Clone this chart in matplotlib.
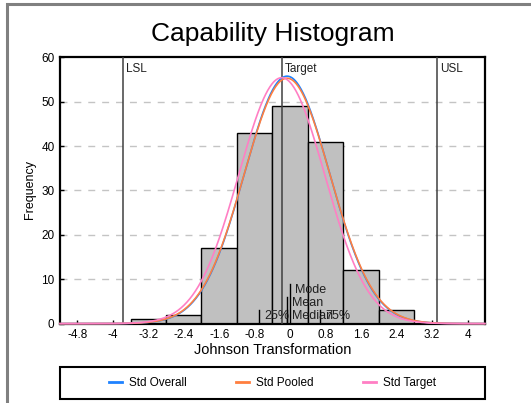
import numpy as np
import matplotlib.pyplot as plt
from matplotlib.patches import Rectangle

plt.rcParams["font.family"] = ["Liberation Sans", "DejaVu Sans"]

# Histogram of the Johnson-transformed values
bin_centers = [-3.2, -2.4, -1.6, -0.8, 0.0, 0.8, 1.6, 2.4]
counts = [1, 2, 17, 43, 49, 41, 12, 3]
bin_width = 0.8

# Spec limits and target on the transformed scale
spec_names = ["LSL", "Target", "USL"]
spec_values = [-3.78, -0.19, 3.31]

# Summary markers along the bottom
stat_names = ["25%", "Median", "Mean", "Mode", "75%"]
stat_values = [-0.70, -0.07, -0.07, 0.0, 0.68]
stat_heights = [3, 3, 6, 9, 3]

# Fitted normal curves: mean and std dev
fit_names = ["Std Overall", "Std Pooled", "Std Target"]
fit_means = [-0.07, -0.07, -0.19]
fit_sigmas = [0.962, 0.970, 0.968]
fit_colors = ["#1e82ff", "#ff7f3f", "#ff7fc4"]

xticks = [-4.8, -4, -3.2, -2.4, -1.6, -0.8, 0, 0.8, 1.6, 2.4, 3.2, 4]
xtick_labels = ["-4.8", "-4", "-3.2", "-2.4", "-1.6", "-0.8", "0",
                "0.8", "1.6", "2.4", "3.2", "4"]
yticks = [0, 10, 20, 30, 40, 50, 60]

fig = plt.figure(figsize=(5.31, 4.03), dpi=100)
ax = fig.add_axes([0.113, 0.197, 0.800, 0.661])

# grey page frame
fig.patches.append(Rectangle((0.0132, -0.2), 1.2, 1.19, transform=fig.transFigure,
                             fill=False, edgecolor="#808080", lw=2.2))

ax.set_xlim(-5.19, 4.39)
ax.set_ylim(0, 60)

for y in yticks[1:-1]:
    ax.axhline(y, color="#c4c4c4", lw=1, ls=(0, (5, 5)), zorder=0)

ax.bar(bin_centers, counts, width=bin_width, color="#c0c0c0",
       edgecolor="black", linewidth=1, zorder=2)

for name, xv in zip(spec_names, spec_values):
    ax.axvline(xv, color="#404040", lw=1.1, zorder=3)
    ax.annotate(name, (xv, 60), xytext=(3, -6), textcoords="offset pixels",
                ha="left", va="top", fontsize=8.5, color="#202020")

for name, xv, h in zip(stat_names, stat_values, stat_heights):
    ax.plot([xv, xv], [0, h], color="black", lw=1, zorder=3)
    ax.annotate(name, (xv, h), xytext=(5, 0), textcoords="offset pixels",
                ha="left", va="top", fontsize=9, color="#202020", zorder=4)

xs = np.linspace(-5.19, 4.39, 600)
scale = sum(counts) * bin_width
for name, mu, sd, col in zip(fit_names, fit_means, fit_sigmas, fit_colors):
    ys = scale * np.exp(-0.5 * ((xs - mu) / sd) ** 2) / (sd * np.sqrt(2 * np.pi))
    ax.plot(xs, ys, color=col, lw=1.2, label=name, zorder=5, clip_on=False)

ax.set_xticks(xticks)
ax.set_xticklabels(xtick_labels)
ax.set_yticks(yticks)
ax.tick_params(direction="in", length=3, width=1, labelsize=8.5, pad=4)
for sp in ax.spines.values():
    sp.set_linewidth(1.6)

fig.text(0.5132, 0.916, "Capability Histogram", ha="center", va="center",
         fontsize=19)
fig.text(0.5132, 0.1315, "Johnson Transformation", ha="center", va="center",
         fontsize=10.5)
fig.text(0.057, 0.53, "Frequency", ha="center", va="center",
         rotation=90, fontsize=9)

# legend box under the plot
fig.patches.append(Rectangle((0.113, 0.0099), 0.800, 0.080, transform=fig.transFigure,
                             fill=False, edgecolor="black", lw=1.5))
handles, labels = ax.get_legend_handles_labels()
leg = fig.legend(handles, labels, loc="center", bbox_to_anchor=(0.5132, 0.0496),
                 ncol=3, frameon=False, fontsize=8.5, handlelength=1.1,
                 handletextpad=0.6, columnspacing=4.2)
for line in leg.get_lines():
    line.set_linewidth(2)

fig.savefig("out.png", dpi=100)
